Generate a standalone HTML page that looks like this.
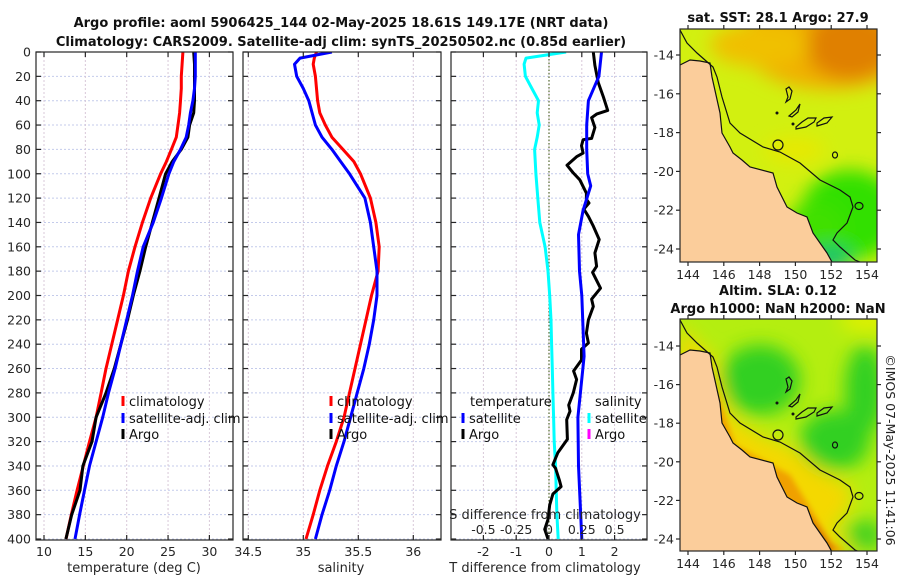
<!DOCTYPE html>
<html><head><meta charset="utf-8"><style>
html,body{margin:0;padding:0;background:#fff;}
svg{display:block;font-family:"DejaVu Sans","Liberation Sans",sans-serif;}
</style></head><body>
<svg id="fig" width="900" height="580" viewBox="0 0 900 580" xmlns="http://www.w3.org/2000/svg">
<defs>
<filter id="blur6" x="-30%" y="-30%" width="160%" height="160%"><feGaussianBlur stdDeviation="9"/></filter>
<filter id="blur3" x="-30%" y="-30%" width="160%" height="160%"><feGaussianBlur stdDeviation="3"/></filter>
<clipPath id="mapclip1"><rect x="680" y="29" width="197" height="233"/></clipPath>
<clipPath id="mapclip2"><rect x="680" y="319" width="197" height="232"/></clipPath>
<clipPath id="p1c"><rect x="36" y="52" width="197" height="488"/></clipPath>
<clipPath id="p2c"><rect x="243" y="52" width="198" height="488"/></clipPath>
<clipPath id="p3c"><rect x="451" y="52" width="196" height="488"/></clipPath>
</defs>
<text x="341" y="27" text-anchor="middle" font-size="13" font-weight="bold" fill="#111">Argo profile: aoml 5906425_144 02-May-2025 18.61S 149.17E (NRT data)</text>
<text x="341" y="46" text-anchor="middle" font-size="13" font-weight="bold" fill="#111">Climatology: CARS2009. Satellite-adj clim: synTS_20250502.nc (0.85d earlier)</text>
<g id="charts"></g>
<g id="maps"></g>
<text transform="translate(886,450) rotate(90)" text-anchor="middle" font-size="12.5" fill="#222">©IMOS 07-May-2025 11:41:06</text>
</svg>
<script>
// ---------- data ----------
const depths = [0,5,10,20,30,40,50,60,70,80,90,100,120,140,160,180,200,220,240,260,280,300,320,340,360,380,400];
const climTemp = [26.8,26.75,26.7,26.6,26.6,26.5,26.4,26.2,26.0,25.4,24.8,24.1,22.9,21.9,21.0,20.2,19.6,18.9,18.2,17.5,16.9,16.3,15.5,14.75,14.0,13.3,12.66];
const satTemp = [28.3,28.3,28.3,28.3,28.2,28.0,27.7,27.5,27.2,26.5,25.7,25.1,24.2,23.2,22.0,21.3,20.7,20.0,19.3,18.6,17.8,17.1,16.3,15.5,14.9,14.3,13.75];
const argoTemp = [28.1,28.15,28.2,28.2,28.2,28.2,28.1,27.6,27.4,26.6,25.5,24.7,23.9,23.1,22.3,21.6,20.8,20.1,19.3,18.5,17.5,16.3,15.8,14.7,14.35,13.35,12.65];
const climSal = [35.12,35.1,35.09,35.11,35.12,35.13,35.15,35.2,35.26,35.36,35.46,35.52,35.61,35.66,35.69,35.68,35.62,35.57,35.52,35.47,35.42,35.37,35.30,35.22,35.15,35.09,35.025];
const satSal = [35.26,34.97,34.92,34.94,35.0,35.05,35.08,35.11,35.17,35.26,35.34,35.42,35.56,35.61,35.64,35.67,35.67,35.64,35.6,35.55,35.49,35.43,35.37,35.3,35.24,35.17,35.11];
const argoDiffDepth = [0,11,25,37,48,51,54,62,71,72,77,83,86,93,99,105,116,121,124,129,135,143,154,165,176,181,194,203,209,220,231,239,244,253,262,269,280,290,295,302,318,329,339,342,352,357,363,372,384,392,400];
const argoTempDiff = [1.35,1.40,1.50,1.66,1.79,1.45,1.30,1.40,1.30,1.04,0.99,1.04,0.84,0.55,0.73,0.94,1.14,1.14,1.22,1.06,1.20,1.35,1.53,1.40,1.45,1.33,1.57,1.30,1.35,1.20,1.14,1.20,0.99,0.99,0.75,0.84,0.74,0.60,0.64,0.54,0.56,0.27,0.12,0.20,0.32,0.37,0.12,0.02,-0.03,-0.13,-0.03];
const satDiffDepth = [0,20,40,60,80,100,110,130,150,180,200,250,300,340,400];
const satTempDiff = [1.6,1.52,1.2,1.15,1.15,1.18,1.27,1.04,0.9,0.93,1.0,1.07,0.88,0.9,1.0];
const salDiffDepth = [0,5,10,20,30,40,50,60,70,80,100,120,140,160,180,200,220,240,260,280,300,320,340,360,380,400];
const satSalDiff = [0.13,-0.175,-0.19,-0.18,-0.13,-0.08,-0.09,-0.075,-0.09,-0.11,-0.1,-0.085,-0.07,-0.03,-0.008,0.005,0.015,0.02,0.025,0.03,0.035,0.04,0.05,0.055,0.06,0.07];
const depthTicks = [0,20,40,60,80,100,120,140,160,180,200,220,240,260,280,300,320,340,360,380,400];
const tempTicks = [10,15,20,25,30];
const salTicks = [34.5,35,35.5,36];
const tDiffTicks = [-2,-1,0,1,2];
const sDiffTicks = [-0.5,-0.25,0,0.25,0.5];
const sDiffTickLabels = ['-0.5','-0.25','0','0.25','0.5'];
const latTicks = [-14,-16,-18,-20,-22,-24];
const lonTicks = [144,146,148,150,152,154];

// ---------- scales ----------
const Y0=52, Y1=540;
const yD = d => 52 + d*1.2175;
const xT = t => 44 + (t-10)*8.27;
const xS = s => 248.3 + (s-34.5)*110;
const xTd = v => 549 + v*32.8;
const xSd = v => 549 + v*131.2;
const NS='http://www.w3.org/2000/svg';
const charts=document.getElementById('charts');
function mk(tag,attrs,parent){const e=document.createElementNS(NS,tag);for(const k in attrs)e.setAttribute(k,attrs[k]);(parent||charts).appendChild(e);return e;}
function txt(s,attrs,parent){const e=mk('text',attrs,parent);e.textContent=s;return e;}

const panels=[{x0:36,x1:233,name:'temperature-panel',clip:'p1c'},{x0:243,x1:441,name:'salinity-panel',clip:'p2c'},{x0:451,x1:647,name:'difference-panel',clip:'p3c'}];
const pg=[];
panels.forEach((p,i)=>{
  const g=mk('g',{});
  
  
  pg.push(g);
  depthTicks.forEach(d=>{
    const l=mk('line',{x1:p.x0,x2:p.x1,y1:yD(d),y2:yD(d),stroke:'#c4cbeb','stroke-width':1,'stroke-dasharray':'2,2'},g);
    
    
  });
});
function vgrid(g,xs){xs.forEach(x=>{const l=mk('line',{x1:x,x2:x,y1:Y0,y2:Y1,stroke:'#d8c8d8','stroke-width':1,'stroke-dasharray':'2,2'},g);
  
  });}
vgrid(pg[0],tempTicks.map(xT));
vgrid(pg[1],salTicks.map(xS));
vgrid(pg[2],tDiffTicks.map(xTd));
const zl=mk('line',{x1:xTd(0),x2:xTd(0),y1:Y0,y2:Y1,stroke:'#556b2f','stroke-width':1.2,'stroke-dasharray':'1.5,2'},pg[2]);



function series(g,xs,ds,fx,color,name,clip){
  const pts=xs.map((v,i)=>fx(v).toFixed(1)+','+yD(ds[i]).toFixed(1)).join(' ');
  const l=mk('polyline',{points:pts,fill:'none',stroke:color,'stroke-width':3,'stroke-linejoin':'round','clip-path':'url(#'+clip+')'},g);
  
  
}
series(pg[0],climTemp,depths,xT,'#ff0000','climatology-temperature-line','p1c');
series(pg[0],argoTemp,depths,xT,'#000000','argo-temperature-line','p1c');
series(pg[0],satTemp,depths,xT,'#0000ff','satellite-temperature-line','p1c');
series(pg[1],climSal,depths,xS,'#ff0000','climatology-salinity-line','p2c');
series(pg[1],satSal,depths,xS,'#0000ff','satellite-salinity-line','p2c');
series(pg[2],satSalDiff,salDiffDepth,xSd,'#00ffff','satellite-salinity-diff-line','p3c');
series(pg[2],argoTempDiff,argoDiffDepth,xTd,'#000000','argo-temperature-diff-line','p3c');
series(pg[2],satTempDiff,satDiffDepth,xTd,'#0000ff','satellite-temperature-diff-line','p3c');

panels.forEach((p,i)=>{
  const g=pg[i];
  const r=mk('rect',{x:p.x0,y:Y0,width:p.x1-p.x0,height:Y1-Y0,fill:'none',stroke:'#262626','stroke-width':1.2},g);
  
  
  depthTicks.forEach(d=>{
    mk('line',{x1:p.x0,x2:p.x0+5,y1:yD(d),y2:yD(d),stroke:'#262626','stroke-width':1.2},g);
    mk('line',{x1:p.x1-5,x2:p.x1,y1:yD(d),y2:yD(d),stroke:'#262626','stroke-width':1.2},g);
  });
});
depthTicks.forEach(d=>{
  const t=txt(String(d),{x:31,y:yD(d)+4.5,'text-anchor':'end','font-size':12.5,fill:'#262626'},pg[0]);
  
  
});
function xticks(g,ticks,labels,fx,y){
  ticks.forEach((v,i)=>{
    const x=fx(v);
    mk('line',{x1:x,x2:x,y1:Y1,y2:Y1-5,stroke:'#262626','stroke-width':1.2},g);
    mk('line',{x1:x,x2:x,y1:Y0,y2:Y0+5,stroke:'#262626','stroke-width':1.2},g);
    const t=txt(labels[i],{x:x,y:y,'text-anchor':'middle','font-size':12.5,fill:'#262626'},g);
    
    
  });
}
xticks(pg[0],tempTicks,tempTicks.map(String),xT,556);
xticks(pg[1],salTicks,salTicks.map(String),xS,556);
xticks(pg[2],tDiffTicks,tDiffTicks.map(String),xTd,556);
sDiffTicks.forEach((v,i)=>{
  const t=txt(sDiffTickLabels[i],{x:xSd(v),y:534,'text-anchor':'middle','font-size':12.5,fill:'#262626'},pg[2]);
  
  
});
const l1=txt('temperature (deg C)',{x:134,y:572,'text-anchor':'middle','font-size':13,fill:'#262626'},pg[0]);


const l2=txt('salinity',{x:341,y:572,'text-anchor':'middle','font-size':13,fill:'#262626'},pg[1]);


const l3=txt('T difference from climatology',{x:545,y:572,'text-anchor':'middle','font-size':13,fill:'#262626'},pg[2]);


const l4=txt('S difference from climatology',{x:545,y:519,'text-anchor':'middle','font-size':13,fill:'#262626'},pg[2]);



function legend(g,x,y,color,label){
  const m=mk('rect',{x:x-1.5,y:y-10,width:3,height:10,fill:color},g);
  
  
  const t=txt(label,{x:x+6,y:y,'font-size':13,fill:'#111'},g);
  
  
}
legend(pg[0],123,406,'#ff0000','climatology');
legend(pg[0],123,423,'#0000ff','satellite-adj. clim');
legend(pg[0],123,439,'#000000','Argo');
legend(pg[1],331,406,'#ff0000','climatology');
legend(pg[1],331,423,'#0000ff','satellite-adj. clim');
legend(pg[1],331,439,'#000000','Argo');
const lt=txt('temperature',{x:470,y:406,'font-size':13,fill:'#111'},pg[2]);


legend(pg[2],463,423,'#0000ff','satellite');
legend(pg[2],463,439,'#000000','Argo');
const ls=txt('salinity',{x:595,y:406,'font-size':13,fill:'#111'},pg[2]);


legend(pg[2],589,423,'#00ffff','satellite');
legend(pg[2],589,439,'#ff00ff','Argo');

// ---------- maps ----------
const maps=document.getElementById('maps');
const coast="680,65 690,60 700,61 710,63 712,77 716,95 720,113 722,133 730,147 733,153 742,160 750,167 773,173 777,187 787,207 797,213 807,217 813,233 820,243 827,253 832,262";
const iso="680,30 687,43 697,53 713,67 717,77 722,97 730,123 740,133 763,147 780,152 800,163 820,180 840,190 850,197 853,207 847,223 837,233 833,240 840,247 855,260 860,262";
function drawMap(off,idx){
  const g=mk('g',{'clip-path':'url(#mapclip'+idx+')'},maps);
  
  
  const gi=mk('g',{transform:'translate(0,'+off+')'},g);
  if(idx===1){
    mk('rect',{x:680,y:29,width:197,height:233,fill:'#d2f010'},gi);
    const b=mk('g',{filter:'url(#blur6)'},gi);
    mk('ellipse',{cx:830,cy:40,rx:90,ry:50,fill:'#f0b000'},b);
    mk('ellipse',{cx:850,cy:45,rx:45,ry:35,fill:'#e08000'},b);
    mk('ellipse',{cx:760,cy:45,rx:50,ry:22,fill:'#f0c000'},b);
    mk('ellipse',{cx:850,cy:215,rx:50,ry:45,fill:'#30e000'},b);
    mk('ellipse',{cx:815,cy:230,rx:30,ry:28,fill:'#40e000'},b);
    mk('ellipse',{cx:830,cy:258,rx:22,ry:12,fill:'#10c070'},b);
    mk('ellipse',{cx:795,cy:150,rx:30,ry:12,fill:'#e8e800'},b);
  } else {
    mk('rect',{x:680,y:29,width:197,height:233,fill:'#b4ee10'},gi);
    const b=mk('g',{filter:'url(#blur6)'},gi);
    mk('ellipse',{cx:760,cy:90,rx:40,ry:35,fill:'#30d020'},b);
    mk('ellipse',{cx:835,cy:150,rx:35,ry:30,fill:'#30d020'},b);
    mk('ellipse',{cx:865,cy:100,rx:20,ry:45,fill:'#30d020'},b);
    mk('ellipse',{cx:865,cy:245,rx:18,ry:15,fill:'#40d020'},b);
    mk('ellipse',{cx:870,cy:30,rx:30,ry:12,fill:'#e0f000'},b);
    mk('polygon',{points:iso+' 860,262 800,262 700,150 680,80',fill:'#f4d800'},b);
    const sh2=mk('g',{filter:'url(#blur3)'},gi);
    mk('polygon',{points:"716,100 735,155 790,185 830,250 845,262 820,262 790,215 760,185 725,160 712,120",fill:'#f0a000'},sh2);
    mk('polygon',{points:"800,215 820,240 835,262 815,262",fill:'#d07000'},sh2);
  }
  mk('polygon',{points:coast+' 832,270 670,270 670,65',fill:'#fbcd9b'},gi);
  mk('polyline',{points:coast,fill:'none',stroke:'#111','stroke-width':1.2},gi);
  mk('polyline',{points:iso,fill:'none',stroke:'#111','stroke-width':1.2},gi);
  mk('circle',{cx:778,cy:145,r:5,fill:'none',stroke:'#111','stroke-width':1.2},gi);
  mk('ellipse',{cx:835,cy:155,rx:2.5,ry:3,fill:'none',stroke:'#111','stroke-width':1.2},gi);
  mk('ellipse',{cx:859,cy:206,rx:4,ry:3.5,fill:'none',stroke:'#111','stroke-width':1.2},gi);
  mk('path',{d:'M786,89 l2,8 -2,5 4,-3 2,-8 -3,-4z',fill:'none',stroke:'#111','stroke-width':1.2},gi);
  mk('path',{d:'M789,116 l7,-6 4,-6 -2,8 -6,5z',fill:'none',stroke:'#111','stroke-width':1.2},gi);
  mk('path',{d:'M796,129 l10,-2 8,-5 2,-4 -8,0 -6,4 -6,5z',fill:'none',stroke:'#111','stroke-width':1.2},gi);
  mk('path',{d:'M817,126 l10,-3 5,-6 -8,1 -7,5z',fill:'none',stroke:'#111','stroke-width':1.2},gi);
  mk('circle',{cx:777,cy:113,r:1.5,fill:'#111'},gi);
  mk('circle',{cx:793,cy:124,r:1.5,fill:'#111'},gi);
  const fr=mk('rect',{x:680,y:29+off,width:197,height:off?232:233,fill:'none',stroke:'#262626','stroke-width':1.2},maps);
  
  
  const latY = la => (off?346:55) + (-14-la)*(off?19.3:19.4);
  const lonX = lo => 688 + (lo-144)*17.9;
  const bottom = off?551:262;
  latTicks.forEach(la=>{
    const y=latY(la);
    mk('line',{x1:676,x2:680,y1:y,y2:y,stroke:'#262626','stroke-width':1.2},maps);
    mk('line',{x1:877,x2:881,y1:y,y2:y,stroke:'#262626','stroke-width':1.2},maps);
    const t=txt(String(la),{x:674,y:y+4.5,'text-anchor':'end','font-size':12.5,fill:'#262626'},maps);
    
    
  });
  lonTicks.forEach(lo=>{
    const x=lonX(lo);
    mk('line',{x1:x,x2:x,y1:bottom,y2:bottom+4,stroke:'#262626','stroke-width':1.2},maps);
    mk('line',{x1:x,x2:x,y1:29+off-4,y2:29+off,stroke:'#262626','stroke-width':1.2},maps);
    const t=txt(String(lo),{x:x,y:bottom+17,'text-anchor':'middle','font-size':12.5,fill:'#262626'},maps);
    
    
  });
}
drawMap(0,1);
drawMap(290,2);
const mt1=txt('sat. SST: 28.1 Argo: 27.9',{x:778,y:22,'text-anchor':'middle','font-size':13,'font-weight':'bold',fill:'#111'},maps);


const mt2=txt('Altim. SLA: 0.12',{x:778,y:295,'text-anchor':'middle','font-size':13,'font-weight':'bold',fill:'#111'},maps);


const mt3=txt('Argo h1000: NaN h2000: NaN',{x:778,y:313,'text-anchor':'middle','font-size':13,'font-weight':'bold',fill:'#111'},maps);


</script>
</body></html>
